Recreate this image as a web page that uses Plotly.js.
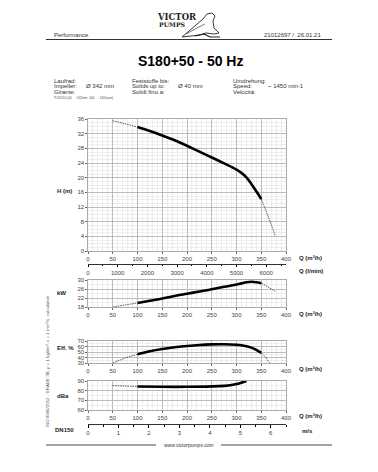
<!DOCTYPE html>
<html><head><meta charset="utf-8">
<script src="https://cdn.plot.ly/plotly-3.0.1.min.js"></script>
<style>html,body{margin:0;padding:0;background:#fff}#c{width:378px;height:472px}</style>
</head><body><div id="c"></div>
<script>
// ---- data ----
const flowQ   = [50,75,100,125,150,175,200,225,250,275,300,310,320,330,340,350,360,370,378];
const headM   = [35.5,34.7,33.8,32.7,31.5,30.2,28.7,27.1,25.5,23.9,22.2,21.3,20.1,18.3,16.3,14.2,10.8,7.3,4.2];
const powerKW = [18.0,18.9,19.8,20.8,21.8,22.9,23.9,24.9,25.9,27.0,28.0,28.5,29.0,29.2,29.0,28.6,27.4,26.1,25.0];
const effQ    = [50,75,100,125,150,175,200,225,250,275,300,310,320,330,340,350,360,367];
const effPct  = [30,39,46,51.5,55.5,58.5,61,62.8,63.8,64,63.2,62.3,60.5,58,54,48.5,39,30];
const noiseQ  = [50,75,100,150,200,250,275,290,300,310,320];
const noiseDb = [85.3,84.8,84.3,84.0,84.0,84.4,85.0,85.8,86.8,88.3,90];
const qTicks     = [0,50,100,150,200,250,300,350,400];
const lminTicks  = [0,1000,2000,3000,4000,5000,6000];
const msTicks    = [0,1,2,3,4,5,6];
const headTicks  = [0,4,8,12,16,20,24,28,32,36];
const kwTicks    = [18,22,26,30];
const effTicks   = [30,40,50,60,70];
const dbTicks    = [60,70,80,90];

const W=378,H=472;
const px=x=>x/W, py=y=>1-y/H;

function seg(xs,ys,lo,hi){const a=[],b=[];xs.forEach((x,i)=>{if(x>=lo&&x<=hi){a.push(x);b.push(ys[i]);}});return {x:a,y:b};}
const traces=[];
function curve(xs,ys,ax,ay,thickEnd){
  const L=seg(xs,ys,0,100), M=seg(xs,ys,100,thickEnd), R=seg(xs,ys,thickEnd,1000);
  const thin={color:'#000',width:0.7,dash:'1.5px,1px',shape:'spline'};
  traces.push({x:L.x,y:L.y,xaxis:ax,yaxis:ay,mode:'lines',line:thin,hoverinfo:'skip'});
  traces.push({x:M.x,y:M.y,xaxis:ax,yaxis:ay,mode:'lines',line:{color:'#000',width:2.6,shape:'spline'},hoverinfo:'skip'});
  if(R.x.length>1) traces.push({x:R.x,y:R.y,xaxis:ax,yaxis:ay,mode:'lines',line:thin,hoverinfo:'skip'});
}
curve(flowQ,headM,'x','y',350);
curve(flowQ,powerKW,'x2','y2',350);
curve(effQ,effPct,'x3','y3',350);
curve(noiseQ,noiseDb,'x4','y4',320);
// dummy traces for secondary scales
traces.push({x:[],y:[],xaxis:'x5',yaxis:'y',mode:'lines',hoverinfo:'skip'});
traces.push({x:[],y:[],xaxis:'x6',yaxis:'y4',mode:'lines',hoverinfo:'skip'});

const tf={family:'Liberation Sans, Arial, sans-serif',size:6,color:'#444'};
const xdom=[px(88),px(286)];
function xax(anchor){return {domain:xdom,anchor:anchor,range:[0,400],tickvals:qTicks,showgrid:true,gridcolor:'#a8a8a8',gridwidth:0.7,
  minor:{dtick:10,showgrid:true,gridcolor:'#dedede',gridwidth:0.5},zeroline:false,showline:true,linecolor:'#888',linewidth:0.7,mirror:true,
  ticks:'outside',ticklen:2,tickcolor:'#666',tickfont:tf,fixedrange:true};}
function yax(dom,range,tv,minor){const o={domain:dom,anchor:'x',range:range,tickvals:tv,showgrid:true,gridcolor:'#a8a8a8',gridwidth:0.7,
  zeroline:false,showline:true,linecolor:'#888',linewidth:0.7,mirror:true,ticks:'outside',ticklen:2,tickcolor:'#666',tickfont:tf,fixedrange:true};
  if(minor) o.minor={dtick:minor,showgrid:true,gridcolor:'#dedede',gridwidth:0.5}; return o;}

const layout={width:W,height:H,margin:{l:0,r:0,t:0,b:0},paper_bgcolor:'#fff',plot_bgcolor:'#fff',showlegend:false,
  xaxis:xax('y'),xaxis2:xax('y2'),xaxis3:xax('y3'),xaxis4:xax('y4'),
  yaxis:Object.assign(yax([py(251),py(119)],[0,36],headTicks,1),{anchor:'x'}),
  yaxis2:Object.assign(yax([py(307),py(280)],[18,30],kwTicks,2),{anchor:'x2'}),
  yaxis3:Object.assign(yax([py(363),py(341)],[30,70],effTicks,5),{anchor:'x3'}),
  yaxis4:Object.assign(yax([py(410),py(381)],[60,90],dbTicks,5),{anchor:'x4'}),
  xaxis5:{overlaying:'x',anchor:'free',position:py(264),range:[0,6666.7],tickvals:lminTicks,showgrid:false,zeroline:false,
    showline:true,linecolor:'#000',linewidth:0.8,ticks:'outside',ticklen:2.5,tickcolor:'#000',tickfont:tf,
    minor:{dtick:500,ticks:'outside',ticklen:1.5,tickcolor:'#000'},fixedrange:true},
  xaxis6:{overlaying:'x4',anchor:'free',position:py(424.3),range:[0,6.5],tickvals:msTicks,showgrid:false,zeroline:false,
    showline:true,linecolor:'#000',linewidth:0.8,ticks:'outside',ticklen:2.5,tickcolor:'#000',tickfont:tf,
    minor:{dtick:0.5,ticks:'outside',ticklen:1.5,tickcolor:'#000'},fixedrange:true},
  annotations:[],shapes:[]
};
const A=layout.annotations;
function txt(t,x,y,o){A.push(Object.assign({text:t,x:px(x),y:py(y),xref:'paper',yref:'paper',showarrow:false,xanchor:'left',yanchor:'middle',
  font:{family:'Liberation Sans, Arial, sans-serif',size:6,color:'#333'}},o||{}));}
const bold={family:'Liberation Sans, Arial, sans-serif',size:6,color:'#222',weight:'bold'};
txt('Performance',52,35);
txt('21012697 /  26.01.21',323,35,{xanchor:'right'});
txt('<b>VICTOR</b>',177,17.5,{xanchor:'center',font:{family:'DejaVu Serif, serif',size:8.5,color:'#222'}});
txt('<b>PUMPS</b>',172,25,{xanchor:'center',font:{family:'DejaVu Serif, serif',size:6.2,color:'#222'}});
txt('<b>S180+50 - 50 Hz</b>',190,61,{xanchor:'center',font:{family:'Liberation Sans, Arial, sans-serif',size:14,color:'#000'}});
const rows=[80.7,86.3,92];
txt('Laufrad:',52,rows[0]);txt('Impeller:',52,rows[1]);txt('Girante:',52,rows[2]);
txt('Ø 342 mm',84,rows[1]);
txt('Feststoffe bis:',130,rows[0]);txt('Solids up to:',130,rows[1]);txt('Solidi fino a:',130,rows[2]);
txt('Ø 40 mm',176,rows[1]);
txt('Umdrehung:',231,rows[0]);txt('Speed:',231,rows[1]);txt('Velocità:',231,rows[2]);
txt('~ 1450 min-1',266,rows[1]);
txt('P1/D200 (40 → 342mm, 400 → 1450rpm)',52,98.5,{font:{family:'Liberation Sans, Arial, sans-serif',size:3.2,color:'#555'}});
txt('H (m)',55,190.7,{font:bold});
txt('kW',55,293,{font:bold});
txt('Eff. %',55,348,{font:bold});
txt('dBa',55,396,{font:bold});
txt('DN150',53,430,{font:bold});
txt('Q (m³/h)',297,257.5,{font:bold});
txt('Q (l/min)',297,270.7,{font:bold});
txt('Q (m³/h)',297,314,{font:bold});
txt('Q (m³/h)',297,369,{font:bold});
txt('Q (m³/h)',297,415.7,{font:bold});
txt('m/s',300,431,{font:bold});
txt('ISO 9906/2012 - GRADE 3B, ρ = 1 kg/dm³, ν = 1 mm²/s, calculated',47,362,{xanchor:'center',textangle:-90,
  font:{family:'Liberation Sans, Arial, sans-serif',size:4.4,color:'#555'}});
txt('www.victorpumps.com',189,445,{xanchor:'center',font:{family:'Liberation Sans, Arial, sans-serif',size:5,color:'#333'}});
const S=layout.shapes;
function ln(x0,y0,x1,y1,w,c){S.push({type:'line',xref:'paper',yref:'paper',x0:px(x0),y0:py(y0),x1:px(x1),y1:py(y1),line:{color:c||'#000',width:w||1}});}
ln(46,39.5,332,39.5,1.1,'#333');
ln(46,445,156,445,0.9,'#333');
ln(221,445,332,445,0.9,'#333');
// simple bird logo outline
function P(pts){return pts.map((p,i)=>(i?'L':'M')+px(p[0]).toFixed(4)+','+py(p[1]).toFixed(4)).join(' ');}
S.push({type:'path',xref:'paper',yref:'paper',path:P([[182,37],[196,25],[203,19],[207,14],[212,13],[215,16],[213,21],[214,28],[219,33],[214,34],[206,33],[200,35]])+' Z',
  line:{color:'#222',width:0.9},fillcolor:'rgba(0,0,0,0)'});
S.push({type:'path',xref:'paper',yref:'paper',path:P([[195,36],[204,34],[210,37],[220,37]]),line:{color:'#222',width:1.2}});
S.push({type:'path',xref:'paper',yref:'paper',path:P([[186,34],[199,27],[205,24]]),line:{color:'#222',width:0.6}});

Plotly.newPlot('c',traces,layout,{staticPlot:true,displayModeBar:false});
</script></body></html>
